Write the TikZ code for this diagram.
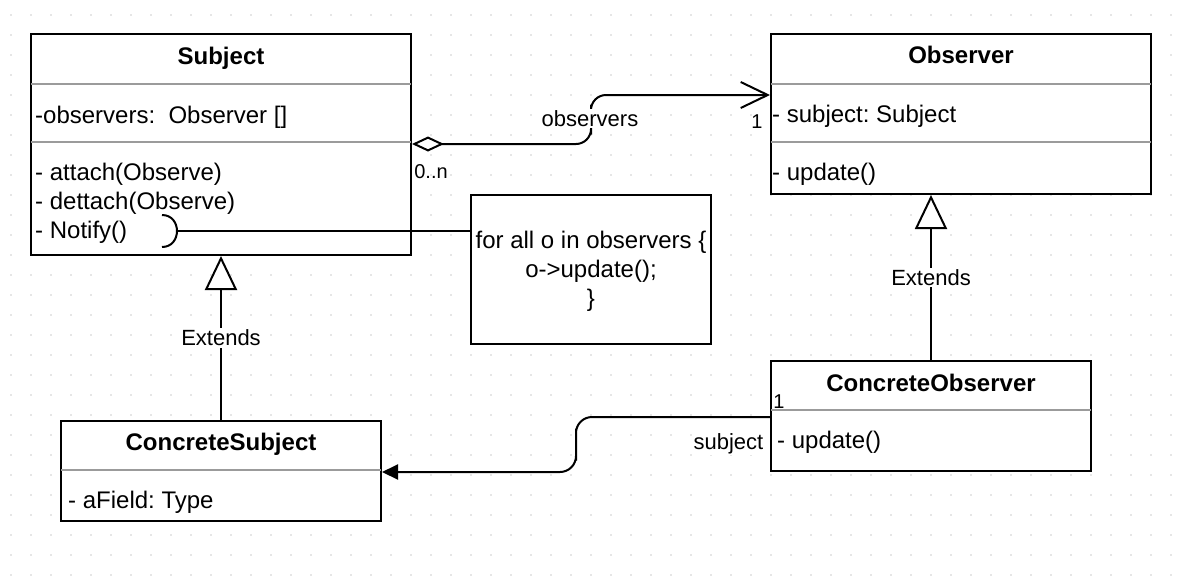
\documentclass[tikz,border=0pt]{standalone}
\usepackage{fontspec}
\setmainfont{Liberation Sans}
\usetikzlibrary{arrows.meta,calc}
\frenchspacing

\definecolor{gridc}{RGB}{205,205,205}
\definecolor{sepc}{RGB}{155,155,155}

\begin{document}
\begin{tikzpicture}[x=1pt,y=-1pt,
  classbox/.style={draw=black, fill=white, line width=2pt, inner sep=0pt},
  notebox/.style={draw=black, fill=white, line width=2pt, inner sep=0pt},
  sepline/.style={draw=sepc, line width=2pt, shorten <=1pt, shorten >=1pt},
  title/.style={font=\fontsize{24}{29}\selectfont\bfseries, inner sep=0pt, anchor=base},
  member/.style={font=\fontsize{24}{29}\selectfont, inner sep=0pt, anchor=base west},
  notetext/.style={font=\fontsize{24}{29}\selectfont, inner sep=0pt, anchor=base},
  elabel/.style={font=\fontsize{22}{26}\selectfont, inner sep=1.5pt, fill=white},
  mult/.style={font=\fontsize{20}{24}\selectfont, inner sep=0.5pt, anchor=base},
  conn/.style={line width=2pt},
  inherit/.style={conn, -{Triangle[length=34pt,width=32pt,fill=white,line join=miter]}},
  aggr/.style={conn, {Diamond[length=32pt,width=15pt,fill=white,line join=miter]}-{Straight Barb[length=27pt,width=26pt]}},
  assoc/.style={conn, -{Triangle[length=16pt,width=15pt]}}
]
% canvas and dotted grid
\fill[white] (0,0) rectangle (1186,576);
\useasboundingbox (0,0) rectangle (1186,576);
\foreach \i in {0,...,58}{
  \foreach \j in {0,...,28}{
    \fill[gridc] (11+20*\i,15+20*\j) circle (0.9pt);
  }
}

% class boxes
\node[classbox, minimum width=380pt, minimum height=221pt] (subject)  at (221,144.5) {};
\node[classbox, minimum width=380pt, minimum height=160pt] (observer) at (961,114) {};
\node[classbox, minimum width=320pt, minimum height=100pt] (csubject) at (221,471) {};
\node[classbox, minimum width=320pt, minimum height=110pt] (cobserver) at (931,416) {};
\node[notebox, minimum width=240pt, minimum height=149pt] (note) at (591,269.5) {};

% compartment separators
\draw[sepline] ([yshift=-51pt]subject.north west) -- ([yshift=-51pt]subject.north east);
\draw[sepline] ([yshift=-109pt]subject.north west) -- ([yshift=-109pt]subject.north east);
\draw[sepline] ([yshift=-51pt]observer.north west) -- ([yshift=-51pt]observer.north east);
\draw[sepline] ([yshift=-109pt]observer.north west) -- ([yshift=-109pt]observer.north east);
\draw[sepline] ([yshift=-50pt]csubject.north west) -- ([yshift=-50pt]csubject.north east);
\draw[sepline] ([yshift=-50pt]cobserver.north west) -- ([yshift=-50pt]cobserver.north east);

% Subject
\node[title]  (subject-name) at (221,64) {Subject};
\node[member] (subject-attr) at (35,123.5) {-observers:\ \ Observer []};
\node[member] (subject-m1) at (35,180.5) {- attach(Observe)};
\node[member] (subject-m2) at (35,209.5) {- dettach(Observe)};
\node[member] (subject-m3) at (35,238.5) {- Notify()};

% Observer
\node[title]  (observer-name) at (961,63.5) {Observer};
\node[member] (observer-attr) at (772,122.5) {- subject: Subject};
\node[member] (observer-m1) at (772,180.5) {- update()};

% ConcreteSubject
\node[title]  (csubject-name) at (221,450.5) {ConcreteSubject};
\node[member] (csubject-attr) at (68,508) {- aField: Type};

% ConcreteObserver
\node[title]  (cobserver-name) at (931,391) {ConcreteObserver};
\node[member] (cobserver-m1) at (777,448.5) {- update()};

% note
\node[notetext] (note-l1) at (591,248) {for all o in observers \{};
\node[notetext] (note-l2) at (591,277) {o->update();};
\node[notetext] (note-l3) at (591,306) {\}};

% Notify() socket and its link to the note
\coordinate (notify-port) at (177,231);
\draw[conn] (162,215) .. controls (182,215) and (182,247) .. (162,247);
\draw[conn] (notify-port) -- (note.west |- notify-port);

% aggregation Subject -> Observer
\coordinate (agg-a) at (subject.east |- 0,144);
\coordinate (agg-b) at (observer.west |- 0,95);
\draw[aggr, rounded corners=15pt] (agg-a) -| ($(agg-a)!0.5!(agg-b)$) |- (agg-b);
\node[elabel, anchor=base] (agg-label) at (590,126) {observers};
\node[mult] (agg-m1) at (431,178) {0..n};
\node[mult] (agg-m2) at (757,128) {1};

% association ConcreteObserver -> ConcreteSubject
\coordinate (as-a) at (cobserver.west |- 0,417);
\coordinate (as-b) at (csubject.east |- 0,472);
\draw[assoc, rounded corners=16pt] (as-a) -| ($(as-a)!0.5!(as-b)$) |- (as-b);
\node[elabel, anchor=base east] (as-label) at (765,449) {subject};
\node[mult, fill=white] (as-m1) at (779,408) {1};

% generalisations
\draw[inherit] (csubject.north) -- (subject.south) node[elabel, midway] (ext-1) {Extends};
\draw[inherit] (cobserver.north) -- (cobserver.north |- observer.south) node[elabel, midway] (ext-2) {Extends};
\end{tikzpicture}
\end{document}
